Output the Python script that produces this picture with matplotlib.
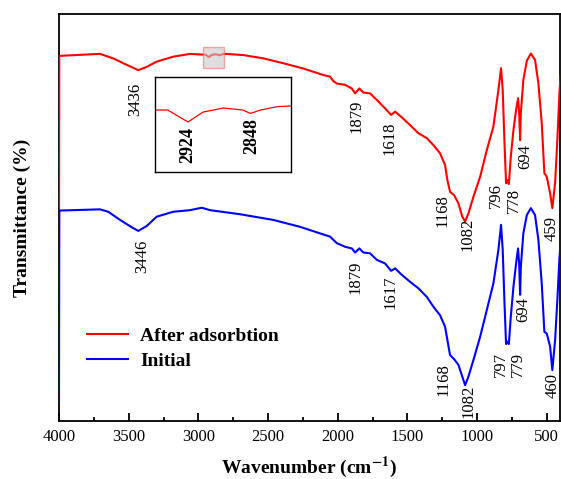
import matplotlib
matplotlib.use("Agg")
import matplotlib.pyplot as plt
from matplotlib.patches import Rectangle

# ==============================
# Datos
# ==============================

# Espectro despues de la adsorcion
wn_despues = [4000, 3998, 3826, 3706, 3612, 3514, 3431, 3371, 3299, 3182, 3060, 2963,
              2948, 2924, 2906, 2882, 2859, 2850, 2838, 2818, 2803, 2677, 2534, 2390,
              2247, 2103, 2055, 2031, 2007, 1947, 1899, 1875, 1845, 1816, 1768, 1720,
              1660, 1617, 1588, 1540, 1481, 1421, 1361, 1314, 1266, 1230, 1213, 1194,
              1165, 1134, 1106, 1086, 1062, 1026, 978, 930, 883, 847, 828, 816, 804,
              792, 782, 772, 758, 739, 720, 706, 698, 691, 686, 668, 643, 614, 584,
              560, 536, 517, 500, 476, 460, 440, 424, 409, 400]
t_despues = [42.8, 89.7, 90.0, 90.2, 89.1, 87.5, 86.2, 87.0, 88.3, 89.5, 90.2, 90.0,
             90.0, 89.4, 89.9, 90.1, 90.0, 89.83, 90.0, 90.17, 90.2, 89.9, 89.1, 87.9,
             86.6, 85.0, 84.6, 83.5, 82.9, 82.6, 81.7, 80.5, 81.7, 80.7, 80.5, 78.9,
             76.8, 75.2, 76.0, 74.6, 72.7, 70.7, 69.5, 67.8, 65.8, 62.9, 59.2, 56.3,
             55.5, 53.5, 50.2, 49.0, 51.0, 55.1, 60.0, 66.6, 72.3, 81.3, 86.7, 81.3, 69.0,
             58.4, 59.2, 58.2, 64.9, 71.5, 76.4, 79.3, 75.7, 69.0, 75.6, 83.8, 88.5, 90.3, 88.7,
             83.0, 73.2, 60.9, 60.0, 56.0, 52.3, 58.5, 69.0, 80.6, 85.0]

# Espectro inicial
wn_inicial = [4000, 3998, 3706, 3646, 3562, 3478, 3431, 3371, 3299, 3182, 3060, 2976,
              2916, 2701, 2462, 2270, 2127, 2055, 2031, 2007, 1947, 1899, 1875, 1845,
              1816, 1768, 1720, 1660, 1617, 1588, 1540, 1481, 1421, 1361, 1314, 1266,
              1230, 1213, 1194, 1165, 1134, 1106, 1086, 1062, 1026, 978, 930, 883, 847,
              828, 816, 804, 792, 782, 772, 758, 739, 720, 706, 698, 691, 686, 668,
              643, 614, 584, 560, 536, 517, 500, 476, 460, 440, 424, 409, 400]
t_inicial = [4.7, 51.7, 52.0, 51.4, 49.4, 47.6, 46.7, 47.9, 50.2, 51.4, 51.8, 52.4,
             51.8, 50.8, 49.4, 47.7, 46.1, 45.3, 44.5, 43.7, 42.8, 42.4, 41.4, 42.4,
             41.4, 41.2, 39.6, 38.7, 36.9, 37.5, 35.9, 34.2, 32.6, 30.5, 28.1, 26.0,
             23.2, 19.9, 16.2, 15.2, 13.8, 10.9, 8.8, 10.9, 15.0, 20.7, 27.3, 33.8, 42.0,
             48.2, 42.0, 29.7, 18.9, 19.5, 18.9, 25.6, 33.0, 38.7, 42.4, 38.7, 31.0, 37.9, 46.1,
             50.6, 52.3, 50.6, 44.5, 33.8, 21.9, 21.5, 18.3, 12.5, 19.9, 29.7, 40.0, 44.0]

# Etiquetas de picos: (texto, x, y)
picos_despues = [("3436", 3454, 78.9), ("1879", 1868, 74.9), ("1618", 1631, 69.5),
                 ("1168", 1251, 51.6), ("1082", 1071, 45.9), ("796", 863, 55.5),
                 ("778", 734, 54.3), ("694", 655, 64.9), ("459", 468, 47.2)]
picos_inicial = [("3446", 3404, 40.5), ("1879", 1875, 35.4), ("1617", 1624, 31.7),
                 ("1168", 1243, 10.3), ("1082", 1064, 4.7), ("797", 828, 14.0),
                 ("779", 710, 14.0), ("694", 669, 27.5), ("460", 461, 8.8)]
picos_zoom = [("2924", 2924, 88.25), ("2848", 2848, 88.7)]

# ==============================
# Grafico
# ==============================

plt.rcParams["font.family"] = "Liberation Serif"
plt.rcParams["mathtext.fontset"] = "stix"

fig = plt.figure(figsize=(5.61, 4.79), dpi=100)
ax = fig.add_axes([0.1052, 0.1211, 0.8930, 0.8497])

ax.plot(wn_despues, t_despues, color="#ff0000", lw=1.5, label="After adsorbtion", zorder=3)
ax.plot(wn_inicial, t_inicial, color="#0000ff", lw=1.5, label="Initial", zorder=3)

for texto, x, y in picos_despues + picos_inicial:
    ax.text(x, y, texto, rotation=90, ha="center", va="center", fontsize=12)

ax.set_xlim(4000, 405)
ax.set_ylim(0, 100)
ax.set_yticks([])
ax.set_xticks([4000, 3500, 3000, 2500, 2000, 1500, 1000, 500])
ax.set_xticks(range(3750, 400, -500), minor=True)
ax.tick_params(axis="x", which="major", direction="in", length=6, width=1.3,
               labelsize=12, pad=6)
ax.tick_params(axis="x", which="minor", direction="in", length=3, width=1.3)
for s in ax.spines.values():
    s.set_linewidth(1.3)

ax.set_xlabel(r"Wavenumber (cm$^{\mathbf{-1}}$)", fontsize=14, fontweight="bold", labelpad=7)
ax.set_ylabel("Transmittance (%)", fontsize=14, fontweight="bold", labelpad=20)

ax.legend(loc="center left", bbox_to_anchor=(0.055, 0.178), frameon=False,
          prop={"weight": "bold", "size": 14}, handlelength=2.15,
          handletextpad=0.6, labelspacing=0.35, borderpad=0, borderaxespad=0)

# Recuadro de la zona ampliada
ax.add_patch(Rectangle((2816, 86.7), 151, 5.2, facecolor="#c8c8c8", alpha=0.6,
                       edgecolor="#f07070", lw=1, zorder=4))

# Ampliacion 2924 / 2848
axz = fig.add_axes([0.2763, 0.6409, 0.2424, 0.1983])
axz.plot(wn_despues, t_despues, color="#ff0000", lw=0.9)
for texto, x, y in picos_zoom:
    axz.text(x, y, texto, rotation=90, ha="center", va="center",
             fontsize=13, fontweight="bold")
axz.set_xlim(2963, 2802)
axz.set_ylim(86.9, 91.65)
axz.set_xticks([])
axz.set_yticks([])
for s in axz.spines.values():
    s.set_linewidth(1.0)

plt.savefig("out.png", dpi=100)
